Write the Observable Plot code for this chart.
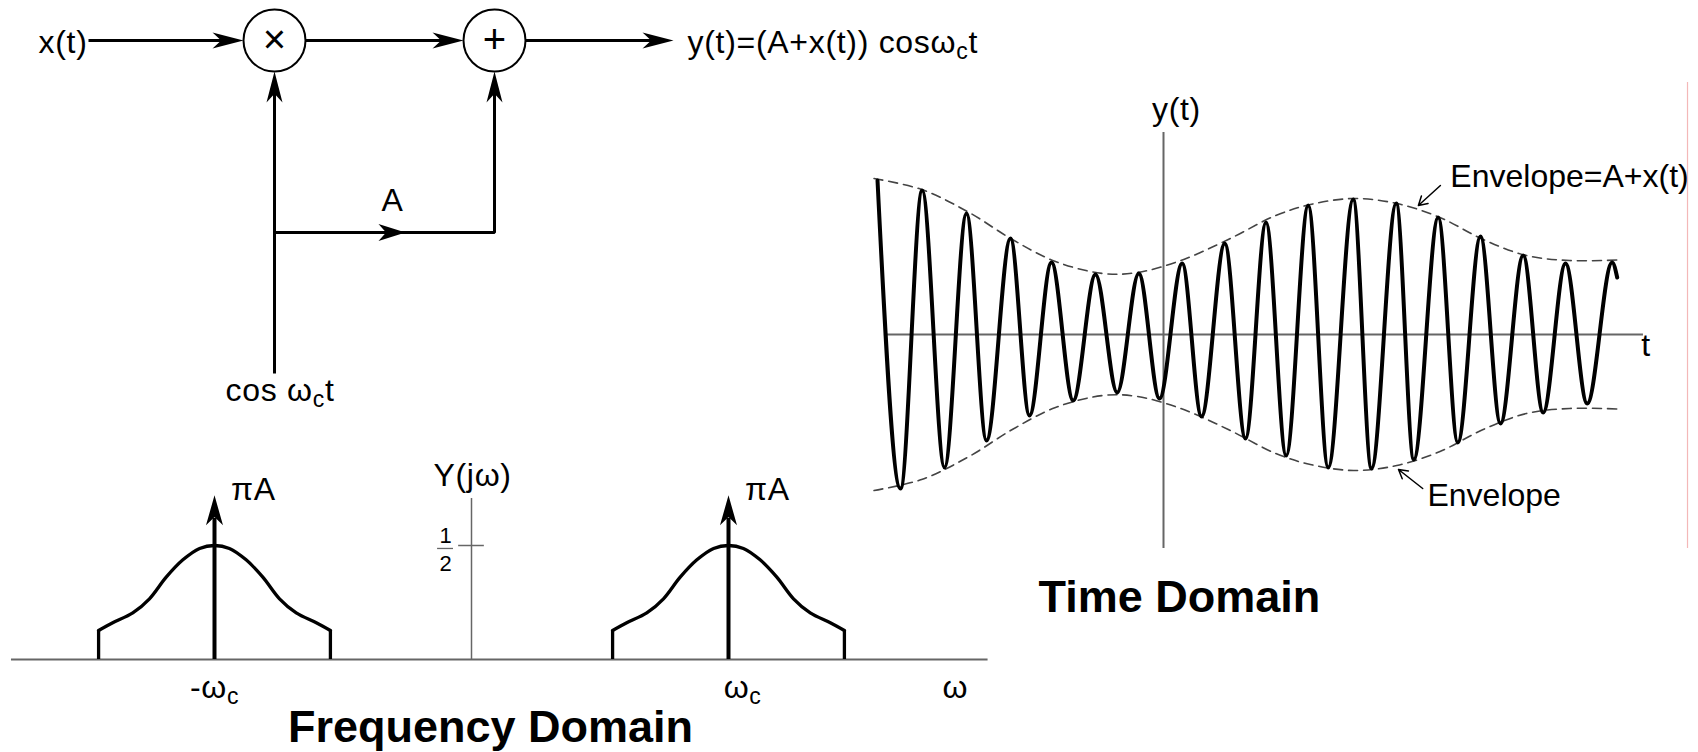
<!DOCTYPE html>
<html>
<head>
<meta charset="utf-8">
<script src="https://cdn.jsdelivr.net/npm/d3@7"></script>
<script src="https://cdn.jsdelivr.net/npm/@observablehq/plot@0.6"></script>
<style>
html, body { margin: 0; padding: 0; background: #fff; }
#figure { position: relative; width: 1698px; height: 752px; overflow: hidden; background: #fff; }
#figure svg { position: absolute; left: 0; top: 0; background: transparent !important; max-width: none !important; }
</style>
</head>
<body>
<div id="figure"></div>
<script>
// ================= DATA =================
// --- Block diagram (diagram units, origin at the multiplier, y pointing up) ---
const blockNodes = [
  {id: "mult", symbol: "×", x: 0, y: 0},
  {id: "add", symbol: "+", x: 2.2, y: 0}
];
const nodeRadius = 0.31;
const inputX = -1.86;
const outputX = 3.99;
const carrierY = -3.33;
const branchY = -1.92;
const branchArrowX = 1.31;
const blockLabels = [
  {text: "x(t)", x: -1.87, y: -0.12, anchor: "end"},
  {text: "y(t)=(A+x(t)) cosω_ct", x: 4.13, y: -0.12, anchor: "start"},
  {text: "A", x: 1.18, y: -1.70, anchor: "middle"},
  {text: "cos ω_ct", x: -0.49, y: -3.60, anchor: "start"}
];

// --- Frequency domain (ω in units of ωc) ---
const carrierFreqs = [-1, 1];
const impulseTip = 0.72;            // drawn height of the πA impulses
const lobeOffsets = [-0.451, -0.396, -0.318, -0.253, -0.188, -0.123, -0.058, 0, 0.058, 0.123, 0.188, 0.253, 0.318, 0.396, 0.451];
const lobeValues  = [0.127, 0.161, 0.204, 0.266, 0.361, 0.437, 0.487, 0.5, 0.487, 0.437, 0.361, 0.266, 0.204, 0.161, 0.127];
const omegaAxis = [-1.79, 2.01];
const spectrumAxisTop = 0.706;
const halfTick = 0.5;
const fractionBar = 0.487;
const freqLabels = [
  {text: "πA", x: -0.936, y: 0.70, anchor: "start"},
  {text: "πA", x: 1.064, y: 0.70, anchor: "start"},
  {text: "Y(jω)", x: -0.148, y: 0.763, anchor: "start"},
  {text: "-ω_c", x: -1.0, y: -0.167, anchor: "middle"},
  {text: "ω_c", x: 1.055, y: -0.167, anchor: "middle"},
  {text: "ω", x: 1.883, y: -0.167, anchor: "middle"}
];
const fractionLabels = [
  {text: "1", x: -0.101, y: 0.509, anchor: "middle"},
  {text: "2", x: -0.101, y: 0.390, anchor: "middle"}
];
const freqTitle = [{text: "Frequency Domain", x: 0.074, y: -0.364, anchor: "middle"}];

// --- Time domain (t in carrier periods, amplitude in envelope units) ---
const waveT = [-6.62, -6.088, -5.586, -5.069, -4.560, -4.097, -3.542, -3.102, -2.593, -2.090, -1.574, -1.072, -0.572, -0.093, 0.433, 0.880, 1.419, 1.898, 2.373, 2.840, 3.350, 3.813, 4.391, 4.815, 5.387, 5.794, 6.359, 6.813, 7.338, 7.801, 8.326, 8.789, 9.306, 9.808, 10.386, 10.502];
const waveY = [1.54, -1.54, 1.44, -1.33, 1.21, -1.06, 0.96, -0.81, 0.72, -0.66, 0.60, -0.58, 0.61, -0.64, 0.71, -0.82, 0.91, -1.04, 1.12, -1.21, 1.29, -1.33, 1.35, -1.34, 1.31, -1.25, 1.17, -1.08, 0.98, -0.89, 0.79, -0.78, 0.71, -0.69, 0.72, 0.57];
const envT = [-6.7, -5.6, -4.5, -3.5, -2.5, -1.4, -0.6, 0.4, 1.5, 2.6, 3.4, 4.4, 5.4, 6.4, 7.4, 8.4, 9.4, 10.5];
const envA = [1.56, 1.45, 1.22, 0.95, 0.73, 0.61, 0.62, 0.74, 0.95, 1.19, 1.30, 1.36, 1.31, 1.17, 0.95, 0.79, 0.74, 0.745];
const timeAxis = [-6.46, 11.11];
const ampAxis = [-2.14, 2.02];
const frameEdge = {t: 12.13, a1: -2.14, a2: 2.52};
const envelopePointers = [
  {x1: 6.41, y1: 1.49, x2: 5.90, y2: 1.29},
  {x1: 6.00, y1: -1.54, x2: 5.44, y2: -1.35}
];
const timeLabels = [
  {text: "y(t)", x: 0.30, y: 2.15, anchor: "middle"},
  {text: "t", x: 11.06, y: -0.21, anchor: "start"}
];
const envelopeLabels = [
  {text: "Envelope=A+x(t)", x: 6.64, y: 1.48, anchor: "start"},
  {text: "Envelope", x: 6.11, y: -1.71, anchor: "start"}
];
const timeTitle = [{text: "Time Domain", x: 0.37, y: -2.77, anchor: "middle"}];

// ================= DRAWING =================
const FONT = "'Liberation Sans', Arial, Helvetica, sans-serif";
const W = 1698, H = 752;
const AXIS = "#666";
const LABEL = 32;
const spacing = new Map(); // label text -> letter spacing (px)

const stealth = {
  draw(ctx, l, r) {
    ctx.moveTo(0, -l);
    ctx.lineTo(r, 0);
    ctx.lineTo(0, -0.28 * l);
    ctx.lineTo(-r, 0);
    ctx.closePath();
  }
};
function arrowheads(data, length, r) {
  return Plot.vector(data, {x: "x", y: "y", rotate: "dir", length, r, anchor: "end", shape: stealth, fill: "black", stroke: "none"});
}
function texts(data, {size = LABEL, weight = "normal", ls = 0} = {}) {
  for (const d of data) spacing.set(d.text, ls);
  return data.map(d => Plot.text([d], {
    x: "x", y: "y", text: "text",
    textAnchor: d.anchor ?? "middle", lineAnchor: "bottom",
    fontFamily: FONT, fontSize: size, fontWeight: weight, fill: "black"
  }));
}
function panel(xDomain, yDomain, marks) {
  return Plot.plot({
    width: W, height: H, margin: 0,
    x: {domain: xDomain, range: [0, W], axis: null},
    y: {domain: yDomain, range: [0, H], axis: null},
    style: {background: "transparent", fontFamily: FONT},
    marks
  });
}

// ---- block diagram ----
const blockX = [-2.74, 14.24], blockY = [0.40, -7.12];
const pxPerUnit = W / (blockX[1] - blockX[0]);
const [mult, add] = blockNodes;
const gap = 0.15;
const wireSegs = [
  {w: "in", pts: [[inputX, 0], [mult.x - nodeRadius - gap, 0]]},
  {w: "mid", pts: [[mult.x + nodeRadius, 0], [add.x - nodeRadius - gap, 0]]},
  {w: "out", pts: [[add.x + nodeRadius, 0], [outputX - gap, 0]]},
  {w: "carrier", pts: [[mult.x, carrierY], [mult.x, -nodeRadius - gap]]},
  {w: "branch", pts: [[mult.x, branchY], [add.x, branchY], [add.x, -nodeRadius - gap]]}
];
const wirePoints = wireSegs.flatMap(s => s.pts.map(([x, y]) => ({w: s.w, x, y})));
const mainHeads = [
  {x: mult.x - nodeRadius, y: 0, dir: 90},
  {x: add.x - nodeRadius, y: 0, dir: 90},
  {x: outputX, y: 0, dir: 90},
  {x: mult.x, y: -nodeRadius, dir: 0},
  {x: add.x, y: -nodeRadius, dir: 0}
];
const branchHead = [{x: branchArrowX, y: branchY, dir: 90}];

const blockPlot = panel(blockX, blockY, [
  Plot.line(wirePoints, {x: "x", y: "y", z: "w", stroke: "black", strokeWidth: 3, strokeLinejoin: "miter", strokeLinecap: "butt"}),
  arrowheads(mainHeads, 31, 8),
  arrowheads(branchHead, 27, 8.5),
  Plot.dot(blockNodes, {x: "x", y: "y", r: nodeRadius * pxPerUnit, fill: "white", stroke: "black", strokeWidth: 2}),
  Plot.text(blockNodes, {x: "x", y: "y", text: "symbol", fontFamily: FONT, fontSize: 40, lineAnchor: "middle", fill: "black"}),
  ...texts(blockLabels, {ls: 0.7})
]);

// ---- frequency domain ----
const freqX = [-471 / 257, 1227 / 257], freqY = [659 / 228, -93 / 228];
const lobes = carrierFreqs.flatMap(c => lobeOffsets.map((o, i) => ({lobe: c, w: c + o, v: lobeValues[i]})));
const edges = carrierFreqs.flatMap(c => [
  {w: c + lobeOffsets[0], v: lobeValues[0]},
  {w: c + lobeOffsets[lobeOffsets.length - 1], v: lobeValues[lobeValues.length - 1]}
]);
const freqPlot = panel(freqX, freqY, [
  Plot.ruleY([0], {x1: omegaAxis[0], x2: omegaAxis[1], stroke: AXIS, strokeWidth: 2}),
  Plot.ruleX([0], {y1: 0, y2: spectrumAxisTop, stroke: AXIS, strokeWidth: 1.5}),
  Plot.ruleY([halfTick], {x1: -0.05, x2: 0.05, stroke: AXIS, strokeWidth: 1.5}),
  Plot.ruleY([fractionBar], {x1: -0.132, x2: -0.070, stroke: AXIS, strokeWidth: 1.3}),
  Plot.ruleX(edges, {x: "w", y1: 0, y2: "v", stroke: "black", strokeWidth: 3.3}),
  Plot.line(lobes, {x: "w", y: "v", z: "lobe", curve: "catmull-rom", stroke: "black", strokeWidth: 3.3}),
  Plot.ruleX(carrierFreqs, {y1: 0, y2: impulseTip - 0.1, stroke: "black", strokeWidth: 4}),
  arrowheads(carrierFreqs.map(c => ({x: c, y: impulseTip, dir: 0})), 30, 8.5),
  ...texts(freqLabels, {ls: 0.7}),
  ...texts(fractionLabels, {size: 22}),
  ...texts(freqTitle, {size: 45, weight: "bold"})
]);

// ---- time domain ----
const timeX = [-1163 / 43.2, (W - 1163) / 43.2], timeY = [3.34, -4.18];
const wave = waveT.map((t, i) => ({t, y: waveY[i]}));
const envUpper = envT.map((t, i) => ({t, a: envA[i]}));
const envLower = envT.map((t, i) => ({t, a: -envA[i]}));
const timePlot = panel(timeX, timeY, [
  Plot.ruleX([frameEdge.t], {y1: frameEdge.a1, y2: frameEdge.a2, stroke: "#f4b8b8", strokeWidth: 1.2}),
  Plot.ruleY([0], {x1: timeAxis[0], x2: timeAxis[1], stroke: AXIS, strokeWidth: 2}),
  Plot.ruleX([0], {y1: ampAxis[0], y2: ampAxis[1], stroke: AXIS, strokeWidth: 2}),
  Plot.line(envUpper, {x: "t", y: "a", curve: "catmull-rom", stroke: "#444", strokeWidth: 1.6, strokeDasharray: "9,6"}),
  Plot.line(envLower, {x: "t", y: "a", curve: "catmull-rom", stroke: "#444", strokeWidth: 1.6, strokeDasharray: "9,6"}),
  Plot.line(wave, {x: "t", y: "y", curve: "monotone-x", stroke: "black", strokeWidth: 4}),
  Plot.arrow(envelopePointers, {x1: "x1", y1: "y1", x2: "x2", y2: "y2", stroke: "black", strokeWidth: 1.5, headLength: 10}),
  ...texts(timeLabels, {ls: 0.7}),
  ...texts(envelopeLabels, {ls: 0}),
  ...texts(timeTitle, {size: 45, weight: "bold"})
]);

const fig = document.getElementById("figure");
for (const svg of [freqPlot, timePlot, blockPlot]) fig.appendChild(svg);

// letter spacing and subscripts (e.g. ω_c → ω with subscript c)
for (const t of fig.querySelectorAll("svg text")) {
  const s = t.textContent;
  const ls = spacing.get(s);
  if (ls) { t.setAttribute("letter-spacing", ls); t.style.letterSpacing = ls + "px"; }
  if (!s.includes("_")) continue;
  const fs = parseFloat(getComputedStyle(t).fontSize) || LABEL;
  const shift = 0.2 * fs;
  const parts = s.split(/_(.)/);
  t.textContent = "";
  parts.forEach((p, i) => {
    if (!p) return;
    const ts = document.createElementNS("http://www.w3.org/2000/svg", "tspan");
    ts.textContent = p;
    if (i % 2) { ts.setAttribute("font-size", (0.72 * fs).toFixed(1)); ts.setAttribute("dy", shift); }
    else if (i > 0) ts.setAttribute("dy", -shift);
    t.appendChild(ts);
  });
}
</script>
</body>
</html>
